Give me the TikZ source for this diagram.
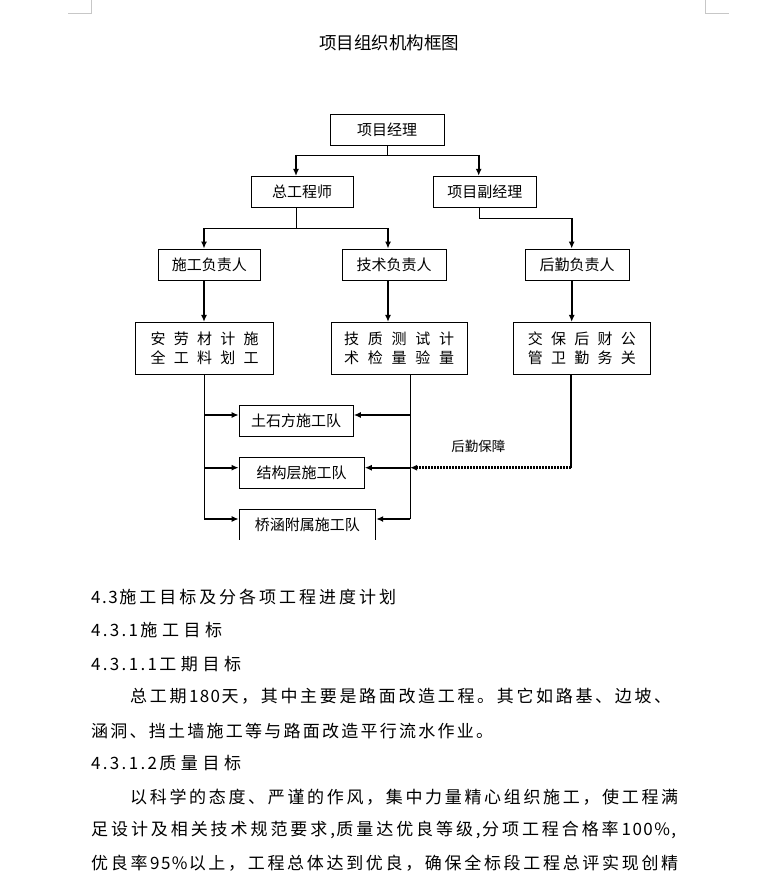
\documentclass[tikz,border=0pt]{standalone}
\usepackage{fontspec}
\setmainfont{Noto Sans CJK SC}
\usetikzlibrary{arrows.meta}

% spread the characters of a line over a given width
\ExplSyntaxOn
\cs_new_protected:Npn \spreadline #1#2
  {
    \hbox_to_wd:nn {#1}
      {
        \tl_map_inline:nn {#2}
          {
            ##1
            \int_compare:nNnTF { `##1 } > { 255 }
              { \hskip 0pt plus 1fil }
              { \hskip 0pt plus 0.5fil }
          }
        \unskip
      }
  }
\ExplSyntaxOff

\newcommand\diagfont{\fontsize{15}{19.7}\selectfont}
\newcommand\bodyfont{\fontsize{17}{20}\selectfont}

\begin{document}
\begin{tikzpicture}[x=1pt, y=-1pt, >={Latex[length=7pt, width=6pt]},
  postbox/.style={draw, line width=0.8pt, inner sep=0pt, minimum height=31pt, font=\diagfont},
  dutybox/.style={draw, line width=0.8pt, inner sep=0pt, minimum height=51.7pt, align=center, font=\diagfont},
  thinline/.style={line width=0.9pt},
  thickline/.style={line width=2.2pt},
  supplyline/.style={line width=3pt, dash pattern=on 2pt off 1pt},
  textline/.style={anchor=west, inner sep=0pt, font=\bodyfont}]

\useasboundingbox (0,0) rectangle (774,874);
\fill[white] (0,0) rectangle (774,874);

% page corner marks
\draw[line width=0.8pt, black!22] (68,13.3) -- (91.7,13.3) -- (91.7,0);
\draw[line width=0.8pt, black!22] (705,0) -- (705,13.3) -- (729,13.3);

\node (title) at (389,42.5) [inner sep=0pt, font=\fontsize{17.5}{20}\selectfont] {项目组织机构框图};

% posts
\node (pm)  at (387.2,129.7) [postbox, minimum width=113.7pt] {项目经理};
\node (ce)  at (302,191.9)   [postbox, minimum width=102pt]   {总工程师};
\node (dpm) at (484.9,191.7) [postbox, minimum width=103.7pt] {项目副经理};

\node (con) at (209.3,264.5) [postbox, minimum width=102.7pt] {施工负责人};
\node (tec) at (394.2,264.5) [postbox, minimum width=104pt]   {技术负责人};
\node (log) at (577.2,264.5) [postbox, minimum width=103.7pt] {后勤负责人};

% departments
\node (safety)  at (204.5,348.2) [dutybox, minimum width=137.6pt] {\spreadline{108pt}{安劳材计施}\\\spreadline{108pt}{全工料划工}};
\node (quality) at (399.2,348.2) [dutybox, minimum width=136.3pt] {\spreadline{110pt}{技质测试计}\\\spreadline{110pt}{术检量验量}};
\node (service) at (581.9,348.2) [dutybox, minimum width=136.3pt] {\spreadline{108pt}{交保后财公}\\\spreadline{108pt}{管卫勤务关}};

% teams
\node (team1) at (296.2,420.5) [postbox, minimum width=114.3pt] {土石方施工队};
\node (team2) at (301.7,472.8) [postbox, minimum width=125.3pt] {结构层施工队};
\begin{scope}
  \clip (0,0) rectangle (774,539.5);
  \node (team3) at (307.4,524.8) [postbox, minimum width=136.7pt] {桥涵附属施工队};
\end{scope}

\coordinate (j1l) at (296,155);
\coordinate (j1r) at (478.7,155);
\coordinate (j2)  at (296,228.3);
\coordinate (j2l) at (204,228.3);
\coordinate (j2r) at (388,228.3);
\coordinate (j3)  at (479.3,218.3);
\coordinate (j3r) at (571.7,218.3);

\coordinate (r1) at (204,415);
\coordinate (r2) at (204,467.7);
\coordinate (r3) at (204,519);
\coordinate (s1) at (410,415);
\coordinate (s2) at (410,467.7);
\coordinate (s3) at (410,519);
\coordinate (d1) at (571,467.7);

\draw[thinline] (pm.south) -- (pm.south |- j1l);
\draw[thinline] (j1l) -- (j1r);
\draw[thickline, ->] (j1l) -- (j1l |- ce.north);
\draw[thickline, ->] (j1r) -- (j1r |- dpm.north);

\draw[thinline] (ce.south -| j2) -- (j2);
\draw[thinline] (j2l) -- (j2r);
\draw[thickline, ->] (j2l) -- (j2l |- con.north);
\draw[thickline, ->] (j2r) -- (j2r |- tec.north);

\draw[thinline] (dpm.south -| j3) -- (j3) -- (j3r);
\draw[thickline, ->] (j3r) -- (j3r |- log.north);

\draw[thickline, ->] (con.south -| j2l) -- (j2l |- safety.north);
\draw[thickline, ->] (tec.south -| j2r) -- (j2r |- quality.north);
\draw[thickline, ->] (log.south -| j3r) -- (j3r |- service.north);

\draw[thinline] (safety.south -| r1) -- (r3);
\draw[thickline, ->] (r1) -- (r1 -| team1.west);
\draw[thickline, ->] (r2) -- (r2 -| team2.west);
\draw[thickline, ->] (r3) -- (r3 -| team3.west);

\draw[thinline] (quality.south -| s1) -- (s3);
\draw[thickline, ->] (s1) -- (s1 -| team1.east);
\draw[thickline, ->] (s2) -- (s2 -| team2.east);
\draw[thickline, ->] (s3) -- (s3 -| team3.east);

\draw[line width=2pt] (service.south -| d1) -- (d1);
\draw[supplyline, ->] (d1) -- (s2);
\node (supply) at (478.4,446) [inner sep=0pt, font=\fontsize{13.5}{16}\selectfont] {后勤保障};

% text below the chart
\node (line1) at (91,596.7) [textline] {\spreadline{305pt}{4.3施工目标及分各项工程进度计划}};
\node (line2) at (91,630)   [textline] {\spreadline{131pt}{4.3.1施工目标}};
\node (line3) at (91,664)   [textline] {\spreadline{150pt}{4.3.1.1工期目标}};
\node (line4) at (130,696.7) [textline] {\spreadline{541pt}{总工期180天，其中主要是路面改造工程。其它如路基、边坡、}};
\node (line5) at (91,731)   [textline] {\spreadline{402pt}{涵洞、挡土墙施工等与路面改造平行流水作业。}};
\node (line6) at (91,763)   [textline] {\spreadline{150pt}{4.3.1.2质量目标}};
\node (line7) at (130,796.7) [textline] {\spreadline{548pt}{以科学的态度、严谨的作风，集中力量精心组织施工，使工程满}};
\node (line8) at (91,830)   [textline] {\spreadline{585pt}{足设计及相关技术规范要求,质量达优良等级,分项工程合格率100\%,}};
\node (line9) at (91,863)   [textline] {\spreadline{587pt}{优良率95\%以上，工程总体达到优良，确保全标段工程总评实现创精}};

\end{tikzpicture}
\end{document}
